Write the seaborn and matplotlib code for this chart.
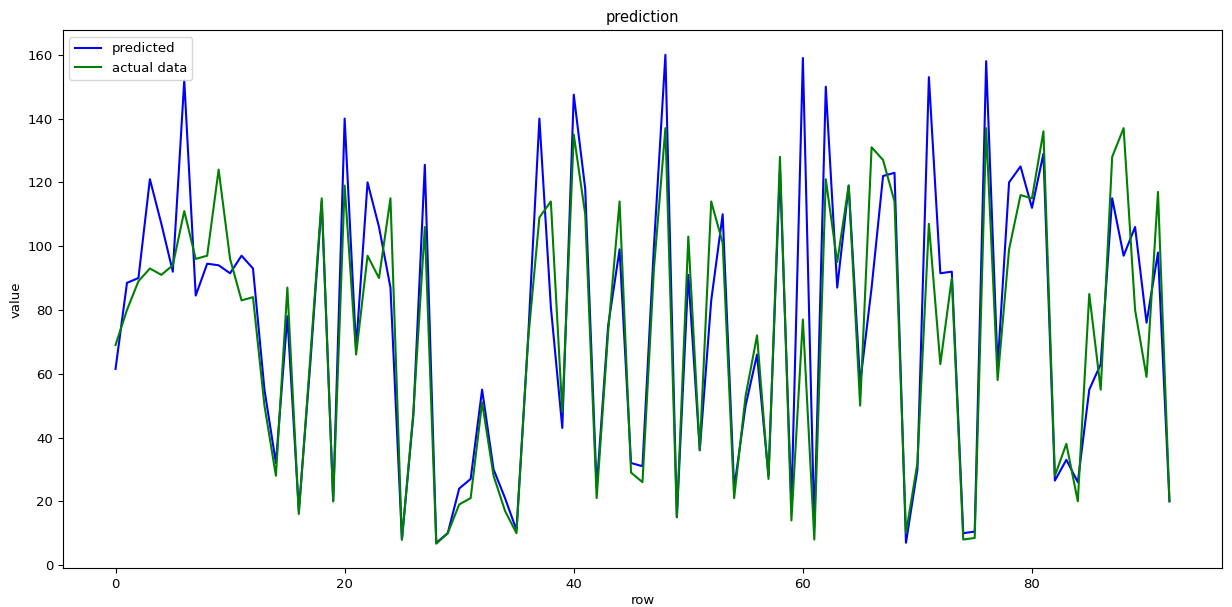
import numpy as np
import pandas as pd
import matplotlib
matplotlib.use("Agg")
import matplotlib.pyplot as plt
import seaborn as sns

predicted = [61.5, 88.5, 90, 121, 107, 92, 152, 84.5, 94.5, 94,
             91.5, 97, 93, 55, 32, 78, 17, 63, 114, 20,
             140, 68, 120, 106, 87, 8, 47, 125.5, 7, 10,
             24, 27, 55, 30, 21, 11, 70, 140, 81, 43,
             147.5, 118, 24, 75, 99, 32, 31, 100, 160, 15,
             91, 36, 83, 110, 24, 50, 66, 28, 124, 19,
             159, 12, 150, 87, 119, 57, 87, 122, 123, 7,
             30, 153, 91.5, 92, 10, 10.5, 158, 62, 120, 125,
             112, 129, 26.5, 33, 26, 55, 63, 115, 97, 106,
             76, 98, 20]
actual = [69, 80, 89, 93, 91, 94, 111, 96, 97, 124,
          96, 83, 84, 50, 28, 87, 16, 65, 115, 20,
          119, 66, 97, 90, 115, 8, 48, 106, 6.7, 10,
          19, 21, 51, 28, 17, 10, 70, 109, 114, 48,
          135, 110, 21, 73, 114, 29, 26, 93, 137, 15,
          103, 36, 114, 101, 21, 53, 72, 27, 128, 14,
          77, 8, 121, 95, 119, 50, 131, 127, 114, 10,
          32, 107, 63, 90, 8, 8.5, 137, 58, 99, 116,
          115, 136, 28, 38, 20, 85, 55, 128, 137, 80,
          59, 117, 20]

df = pd.DataFrame({'row': np.arange(len(predicted)),
                   'predicted': predicted,
                   'actual': actual})

plt.rcParams['font.size'] = 9.5

fig = plt.figure(figsize=(12.32, 6.07), dpi=100)
ax = fig.add_axes([0.051, 0.064, 0.941, 0.886])

sns.lineplot(x='row', y='predicted', data=df, color='blue', label='predicted', ax=ax)
sns.lineplot(x='row', y='actual', data=df, color='green', label='actual data', ax=ax)

ax.set_title('prediction', fontsize=10.5)
ax.set_xlabel('row', labelpad=2)
ax.set_ylabel('value')
ax.legend(loc='upper left')

fig.savefig('out.png', dpi=100)
